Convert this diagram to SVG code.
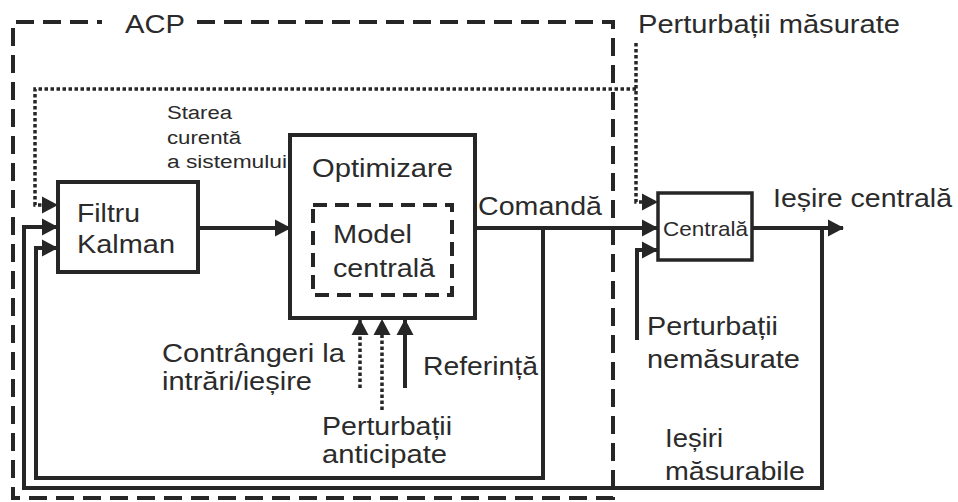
<svg xmlns="http://www.w3.org/2000/svg" width="958" height="502" viewBox="0 0 958 502">
<defs>
<style>
text{font-family:"Liberation Sans",Arial,sans-serif;fill:#2b2b2b;}
.box{fill:#fff;stroke:#262626;stroke-width:4;}
.acp{fill:none;stroke:#262626;stroke-width:4;stroke-dasharray:18 9;}
.mdl{fill:none;stroke:#262626;stroke-width:4;stroke-dasharray:14 8;}
.ln{fill:none;stroke:#262626;stroke-width:4;}
.dot{fill:none;stroke:#262626;stroke-width:3.5;stroke-dasharray:3.5 2.5;}
.L{font-size:26px;}
.S{font-size:18px;}
</style>
<marker id="ah" markerUnits="userSpaceOnUse" markerWidth="18" markerHeight="18" refX="15" refY="9" orient="auto">
<path d="M0,0.5 L16,9 L0,17.5 z" fill="#262626"/>
</marker>
</defs>
<rect width="958" height="502" fill="#fff"/>

<g id="acp">
<path class="acp" d="M197,22 H613 V498 H13 V22 H102"/>
<text class="L" x="125" y="33" font-size="28" textLength="60" lengthAdjust="spacingAndGlyphs">ACP</text>
</g>

<g id="connectors">
<path class="ln" d="M198,228 H290" marker-end="url(#ah)"/>
<path class="ln" d="M475,228 H657" marker-end="url(#ah)"/>
<path class="ln" d="M752,228 H843" marker-end="url(#ah)"/>
<path class="ln" d="M822,228 V488 H24 V227 H57" marker-end="url(#ah)"/>
<path class="ln" d="M543,228 V478 H36 V248 H57" marker-end="url(#ah)"/>
<path class="dot" d="M636,89 H35 V205 H57" marker-end="url(#ah)"/>
<path class="dot" d="M636,43 V202 H657" marker-end="url(#ah)"/>
<path class="ln" d="M637,340 V250 H657" marker-end="url(#ah)"/>
<path class="dot" d="M360,388 V320" marker-end="url(#ah)"/>
<path class="dot" d="M382,410 V320" marker-end="url(#ah)"/>
<path class="ln" d="M405,388 V320" marker-end="url(#ah)"/>
</g>

<g id="filtru">
<rect class="box" x="58" y="182" width="140" height="90"/>
<text class="L" x="77" y="222" textLength="63" lengthAdjust="spacingAndGlyphs">Filtru</text>
<text class="L" x="77" y="253" textLength="98" lengthAdjust="spacingAndGlyphs">Kalman</text>
</g>

<g id="optimizare">
<rect class="box" x="290" y="135" width="185" height="183"/>
<text class="L" x="312" y="177" textLength="141" lengthAdjust="spacingAndGlyphs">Optimizare</text>
<g id="model">
<rect class="mdl" x="313" y="205" width="139" height="90"/>
<text class="L" x="333" y="243" font-size="25" textLength="79" lengthAdjust="spacingAndGlyphs">Model</text>
<text class="L" x="333" y="277" font-size="25" textLength="102" lengthAdjust="spacingAndGlyphs">centrală</text>
</g>
</g>

<g id="centrala">
<rect class="box" x="658" y="193" width="94" height="67" style="stroke-width:3.5"/>
<text x="663" y="236" font-size="21" textLength="85" lengthAdjust="spacingAndGlyphs">Centrală</text>
</g>

<g id="labels">
<text class="L" x="638" y="33" textLength="262" lengthAdjust="spacingAndGlyphs">Perturbații măsurate</text>
<text class="S" x="167" y="119" textLength="65" lengthAdjust="spacingAndGlyphs">Starea</text>
<text class="S" x="167" y="144" textLength="74" lengthAdjust="spacingAndGlyphs">curentă</text>
<text class="S" x="167" y="168" textLength="120" lengthAdjust="spacingAndGlyphs">a sistemului</text>
<text class="L" x="478" y="215" textLength="124" lengthAdjust="spacingAndGlyphs">Comandă</text>
<text class="L" x="773" y="207" textLength="179" lengthAdjust="spacingAndGlyphs">Ieșire centrală</text>
<text class="L" x="162" y="362" textLength="183" lengthAdjust="spacingAndGlyphs">Contrângeri la</text>
<text class="L" x="162" y="390" textLength="150" lengthAdjust="spacingAndGlyphs">intrări/ieșire</text>
<text class="L" x="423" y="375" textLength="115" lengthAdjust="spacingAndGlyphs">Referință</text>
<text class="L" x="322" y="435" textLength="130" lengthAdjust="spacingAndGlyphs">Perturbații</text>
<text class="L" x="322" y="463" textLength="125" lengthAdjust="spacingAndGlyphs">anticipate</text>
<text class="L" x="647" y="335" textLength="131" lengthAdjust="spacingAndGlyphs">Perturbații</text>
<text class="L" x="647" y="368" textLength="153" lengthAdjust="spacingAndGlyphs">nemăsurate</text>
<text class="L" x="665" y="447" textLength="58" lengthAdjust="spacingAndGlyphs">Ieșiri</text>
<text class="L" x="665" y="480" textLength="140" lengthAdjust="spacingAndGlyphs">măsurabile</text>
</g>
</svg>
